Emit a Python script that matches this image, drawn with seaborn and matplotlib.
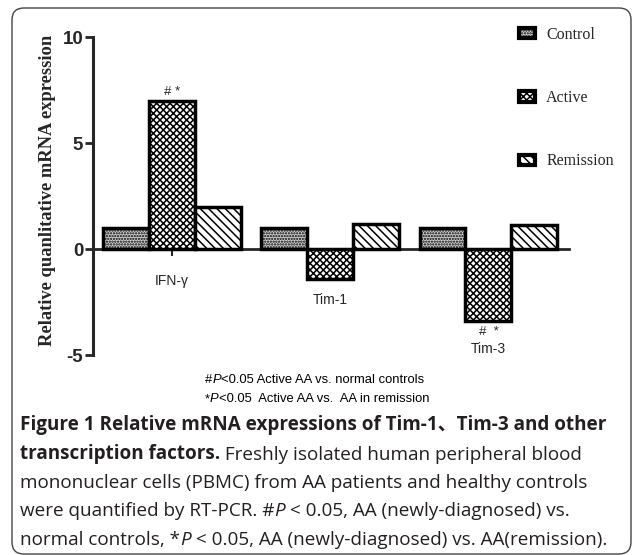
import matplotlib
matplotlib.use('Agg')
import matplotlib.pyplot as plt
from matplotlib.patches import FancyBboxPatch, Patch
import seaborn as sns
import pandas as pd

# values
genes = ['IFN-γ', 'Tim-1', 'Tim-3']
groups = ['Control', 'Active', 'Remission']
control = [1.0, 1.0, 1.0]
active = [7.0, -1.4, -3.4]
remission = [2.0, 1.2, 1.15]
marks = ['# *', '', '#  *']   # significance marks on the Active bar

yticks = [-5, 0, 5, 10]
hatches = {'Control': '......', 'Active': 'xxxxx', 'Remission': '\\' * 4}
colors = {'Control': '#cfcfcf', 'Active': 'white', 'Remission': 'white'}

df = pd.DataFrame({
    'gene': genes * 3,
    'group': [g for g in groups for _ in genes],
    'value': control + active + remission,
})

sns.set_style('white')
plt.rcParams['font.family'] = ['Liberation Sans', 'DejaVu Sans']
plt.rcParams['hatch.linewidth'] = 1.1

fig = plt.figure(figsize=(6.33, 5.55), dpi=100)
ax = fig.add_axes([0.147, 0.36, 0.752, 0.573])

sns.barplot(data=df, x='gene', y='value', hue='group', hue_order=groups,
            palette=colors, width=0.87, saturation=1, edgecolor='black',
            linewidth=2.5, legend=False, zorder=3, ax=ax)

for cont, g in zip(ax.containers, groups):
    for bar in cont:
        bar.set_hatch(hatches[g])
        bar.set_edgecolor('black')

ax.set_xlim(-0.5, 2.51)
ax.set_ylim(-5, 10)
ax.set_yticks(yticks)
ax.set_yticklabels([str(t) for t in yticks], fontsize=13.5, fontweight='bold')
ax.set_xticks(range(len(genes)))
ax.set_xticklabels([])
ax.tick_params(axis='y', length=6, width=2, pad=1, direction='out', left=True)
ax.tick_params(axis='x', length=5, width=1.5, direction='out', bottom=True)

for s in ['top', 'right']:
    ax.spines[s].set_visible(False)
ax.spines['left'].set_linewidth(2.2)
ax.spines['bottom'].set_position(('data', 0))
ax.spines['bottom'].set_linewidth(2.0)
ax.set_xlabel('')

ax.set_ylabel('Relative quanlitative mRNA expression', family='Liberation Serif',
              fontweight='bold', fontsize=13.3)
ax.yaxis.label.set_va('center')
ax.yaxis.set_label_coords(-0.095, 0.519)

# gene labels under the bars, significance marks on the Active bar
for i, gene in enumerate(genes):
    low = min(0, control[i], active[i], remission[i])
    y = min(low - 1.0, -1.5)
    if marks[i] and active[i] < 0:
        ax.text(i, active[i] - 0.5, marks[i], ha='center', va='center', fontsize=9.5)
        y -= 0.3
    elif marks[i]:
        ax.text(i, active[i] + 0.4, marks[i], ha='center', va='center', fontsize=9.5)
    ax.text(i, y, gene, ha='center', va='center', fontsize=10)

handles = [Patch(facecolor=colors[g], edgecolor='black', hatch=hatches[g], linewidth=3)
           for g in groups]
fig.legend(handles, groups, loc='upper left', bbox_to_anchor=(519 / 633, 1 - 27 / 555),
           frameon=False, borderpad=0, borderaxespad=0, handlelength=1.0,
           handleheight=0.6, handletextpad=0.7, labelspacing=2.95,
           prop={'family': 'Liberation Serif', 'size': 11.5})

# text below the plot
over = fig.add_axes([0, 0, 1, 1])
over.axis('off')
over.set_xlim(0, 1)
over.set_ylim(0, 1)


def chain(x, y, pieces, size, family, color):
    prev = None
    for s, w, st in pieces:
        if prev is None:
            prev = over.text(x, y, s, fontsize=size, family=family, fontweight=w,
                             style=st, color=color, ha='left', va='bottom')
        else:
            prev = over.annotate(s, xy=(1, 0), xycoords=prev, fontsize=size,
                                 family=family, fontweight=w, style=st, color=color,
                                 ha='left', va='bottom')


foot = ['Liberation Sans', 'DejaVu Sans']
chain(205 / 633, 1 - 386 / 555,
      [('#', 'normal', 'normal'), ('P', 'normal', 'italic'),
       ('<0.05 Active AA vs. normal controls', 'normal', 'normal')], 9.4, foot, 'black')
chain(205 / 633, 1 - 405 / 555,
      [('*', 'normal', 'normal'), ('P', 'normal', 'italic'),
       ('<0.05  Active AA vs.  AA in remission', 'normal', 'normal')], 9.4, foot, 'black')

cap = ['Open Sans', 'Noto Sans CJK SC', 'DejaVu Sans']
ink = '#231f20'
lines = [
    [('Figure 1 Relative mRNA expressions of Tim-1、Tim-3 and other', 'bold', 'normal')],
    [('transcription factors.', 'bold', 'normal'),
     (' Freshly isolated human peripheral blood', 'normal', 'normal')],
    [('mononuclear cells (PBMC) from AA patients and healthy controls', 'normal', 'normal')],
    [('were quantified by RT-PCR. #', 'normal', 'normal'), ('P', 'normal', 'italic'),
     (' < 0.05, AA (newly-diagnosed) vs.', 'normal', 'normal')],
    [('normal controls, *', 'normal', 'normal'), ('P', 'normal', 'italic'),
     (' < 0.05, AA (newly-diagnosed) vs. AA(remission).', 'normal', 'normal')],
]
for k, pieces in enumerate(lines):
    chain(20 / 633, 1 - (435 + 28.5 * k) / 555, pieces, 13.6, cap, ink)

fig.add_artist(FancyBboxPatch((0.12, 0.01), 6.19, 5.46,
                              boxstyle='round,pad=0,rounding_size=0.12',
                              transform=fig.dpi_scale_trans, fill=False,
                              edgecolor='#444444', linewidth=1.0))

fig.savefig('out.png', dpi=100)
